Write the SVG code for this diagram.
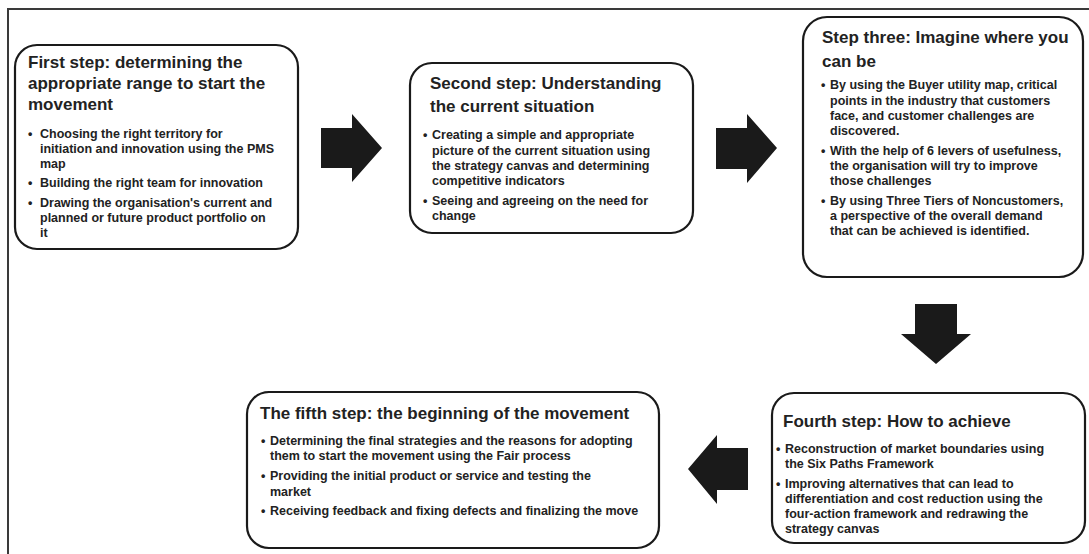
<svg xmlns="http://www.w3.org/2000/svg" width="1089" height="554" viewBox="0 0 1089 554">
  <style>
    .frame { fill: none; stroke: #3a3a3a; stroke-width: 2; }
    .box { fill: #ffffff; stroke: #1a1a1a; stroke-width: 2.2; }
    .title { font-family: "Liberation Sans", Arial, sans-serif; font-weight: bold; font-size: 17px; fill: #222222; }
    .body { font-family: "Liberation Sans", Arial, sans-serif; font-weight: bold; font-size: 12.5px; fill: #222222; }
    .arrow { fill: #1a1a1a; }
  </style>
  <rect width="1089" height="554" fill="#ffffff"/>
  <!-- outer frame (top and left edges) -->
  <path class="frame" d="M8,554 V9 H1089"/>

  <!-- block arrows between the steps -->
  <g id="connectors">
    <path class="arrow" d="M321,128 H352 V114 L382,148 L352,182 V168 H321 Z"/>
    <path class="arrow" d="M716,128 H747 V114 L777,148 L747,183 V169 H716 Z"/>
    <path class="arrow" d="M915,304 H957 V334 H971 L936,364 L901,334 H915 Z"/>
    <path class="arrow" d="M748,448 H717 V435 L688,469 L717,504 V490 H748 Z"/>
  </g>

  <g id="step1">
    <rect class="box" x="15" y="45" width="283" height="204" rx="22"/>
    <text class="title" x="28" y="68">First step: determining the</text>
    <text class="title" x="28" y="89">appropriate range to start the</text>
    <text class="title" x="28" y="110">movement</text>
    <text class="body"><tspan x="28" y="138">•</tspan><tspan x="40">Choosing the right territory for</tspan></text>
    <text class="body" x="40" y="153">initiation and innovation using the PMS</text>
    <text class="body" x="40" y="168">map</text>
    <text class="body"><tspan x="28" y="187">•</tspan><tspan x="40">Building the right team for innovation</tspan></text>
    <text class="body"><tspan x="28" y="207">•</tspan><tspan x="40">Drawing the organisation's current and</tspan></text>
    <text class="body" x="40" y="222">planned or future product portfolio on</text>
    <text class="body" x="40" y="237">it</text>
  </g>

  <g id="step2">
    <rect class="box" x="410" y="63" width="283" height="170" rx="22"/>
    <text class="title" x="430" y="89">Second step: Understanding</text>
    <text class="title" x="430" y="112">the current situation</text>
    <text class="body"><tspan x="423" y="139">•</tspan><tspan x="432">Creating a simple and appropriate</tspan></text>
    <text class="body" x="432" y="155">picture of the current situation using</text>
    <text class="body" x="432" y="170">the strategy canvas and determining</text>
    <text class="body" x="432" y="185">competitive indicators</text>
    <text class="body"><tspan x="423" y="205">•</tspan><tspan x="432">Seeing and agreeing on the need for</tspan></text>
    <text class="body" x="432" y="220">change</text>
  </g>

  <g id="step3">
    <rect class="box" x="803" y="17" width="280" height="260" rx="24"/>
    <text class="title" x="822" y="43">Step three: Imagine where you</text>
    <text class="title" x="822" y="67">can be</text>
    <text class="body"><tspan x="821" y="89">•</tspan><tspan x="830">By using the Buyer utility map, critical</tspan></text>
    <text class="body" x="830" y="105">points in the industry that customers</text>
    <text class="body" x="830" y="120">face, and customer challenges are</text>
    <text class="body" x="830" y="135">discovered.</text>
    <text class="body"><tspan x="821" y="155">•</tspan><tspan x="830">With the help of 6 levers of usefulness,</tspan></text>
    <text class="body" x="830" y="170">the organisation will try to improve</text>
    <text class="body" x="830" y="185">those challenges</text>
    <text class="body"><tspan x="821" y="205">•</tspan><tspan x="830">By using Three Tiers of Noncustomers,</tspan></text>
    <text class="body" x="830" y="220">a perspective of the overall demand</text>
    <text class="body" x="830" y="235">that can be achieved is identified.</text>
  </g>

  <g id="step4">
    <rect class="box" x="772" y="393" width="313" height="150" rx="22"/>
    <text class="title" x="783" y="427">Fourth step: How to achieve</text>
    <text class="body"><tspan x="776" y="453">•</tspan><tspan x="785">Reconstruction of market boundaries using</tspan></text>
    <text class="body" x="785" y="468">the Six Paths Framework</text>
    <text class="body"><tspan x="776" y="488">•</tspan><tspan x="785">Improving alternatives that can lead to</tspan></text>
    <text class="body" x="785" y="503">differentiation and cost reduction using the</text>
    <text class="body" x="785" y="518">four-action framework and redrawing the</text>
    <text class="body" x="785" y="533">strategy canvas</text>
  </g>

  <g id="step5">
    <rect class="box" x="247" y="392" width="412" height="156" rx="22"/>
    <text class="title" x="260" y="419">The fifth step: the beginning of the movement</text>
    <text class="body"><tspan x="261" y="445">•</tspan><tspan x="270">Determining the final strategies and the reasons for adopting</tspan></text>
    <text class="body" x="270" y="460">them to start the movement using the Fair process</text>
    <text class="body"><tspan x="261" y="480">•</tspan><tspan x="270">Providing the initial product or service and testing the</tspan></text>
    <text class="body" x="270" y="496">market</text>
    <text class="body"><tspan x="261" y="515">•</tspan><tspan x="270">Receiving feedback and fixing defects and finalizing the move</tspan></text>
  </g>
</svg>
